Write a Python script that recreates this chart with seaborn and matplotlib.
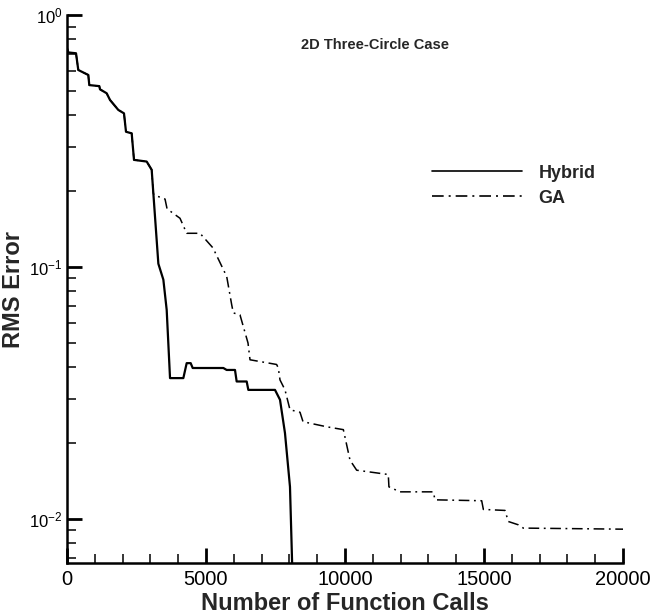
import numpy as np
import pandas as pd
import matplotlib
matplotlib.use("Agg")
import matplotlib.pyplot as plt
import seaborn as sns
from matplotlib.ticker import LogLocator, MultipleLocator, FuncFormatter

# ---- data ----
hybrid_x = [0, 0, 50, 324, 406, 766, 802, 1162, 1187, 1427, 1547, 1845, 2050, 2122,
            2327, 2410, 2866, 3046, 3106, 3286, 3466, 3586, 3706, 4185, 4305, 4449,
            4521, 5624, 5743, 6043, 6103, 6463, 6523, 7482, 7662, 7841, 8021, 8130]
hybrid_y = [0.80, 0.74, 0.71, 0.705, 0.605, 0.578, 0.527, 0.522, 0.507, 0.489, 0.46, 0.42,
            0.407, 0.344, 0.339, 0.266, 0.262, 0.243, 0.196, 0.103, 0.089, 0.0675,
            0.0362, 0.0362, 0.0415, 0.0415, 0.0397, 0.0397, 0.039, 0.039, 0.0351,
            0.0351, 0.0325, 0.0325, 0.0297, 0.0219, 0.0134, 0.005]

ga_x = [0, 0, 50, 324, 406, 766, 802, 1162, 1187, 1427, 1547, 1845, 2050, 2122,
        2327, 2410, 2866, 3046, 3106, 3130, 3526, 3600, 4065, 4305, 4784, 5250,
        5745, 5925, 5982, 6223, 6511, 6583, 7540, 7601, 7662, 7842, 8021, 8381,
        8490, 9341, 9941, 10180, 10420, 11557, 11580, 11978, 13176, 13237, 14917,
        14977, 15755, 15875, 16235, 16414, 20000]
ga_y = [0.80, 0.74, 0.71, 0.705, 0.605, 0.578, 0.527, 0.522, 0.507, 0.489, 0.46, 0.42,
        0.407, 0.344, 0.339, 0.266, 0.262, 0.243, 0.196, 0.193, 0.186, 0.17, 0.156,
        0.136, 0.136, 0.119, 0.0916, 0.0707, 0.0657, 0.0645, 0.0499, 0.0428, 0.041,
        0.0397, 0.0356, 0.0325, 0.0271, 0.0265, 0.0243, 0.0232, 0.0226, 0.0171,
        0.0156, 0.0150, 0.0134, 0.0128, 0.0128, 0.0119, 0.0118, 0.0109, 0.0108,
        0.00976, 0.00947, 0.00919, 0.0091]

series_names = ["Hybrid", "GA"]
title_text = "2D Three-Circle Case"
x_label = "Number of Function Calls"
y_label = "RMS Error"

df = pd.concat([
    pd.DataFrame({"calls": hybrid_x, "rms": hybrid_y, "method": "Hybrid"}),
    pd.DataFrame({"calls": ga_x, "rms": ga_y, "method": "GA"}),
], ignore_index=True)

sns.set_style("ticks")
plt.rcParams["font.family"] = ["Liberation Sans", "DejaVu Sans"]
plt.rcParams["mathtext.default"] = "regular"

fig = plt.figure(figsize=(6.52, 6.14), dpi=100)
ax = fig.add_axes([67 / 652, (614 - 563) / 614, 556 / 652, 548 / 614])

sns.lineplot(data=df, x="calls", y="rms", hue="method", style="method",
             hue_order=series_names, style_order=series_names,
             palette={"Hybrid": "black", "GA": "black"},
             dashes={"Hybrid": "", "GA": (7, 3, 1.2, 3)},
             estimator=None, sort=False, ax=ax, legend=True)
lines = ax.get_lines()
if len(lines) >= 2:
    lines[0].set_linewidth(1.6)
    lines[1].set_linewidth(1.1)
    lines[0].set_zorder(3)

ax.set_yscale("log")
ax.set_xlim(0, 20000)
ax.set_ylim(0.00668, 1.0)

ax.xaxis.set_major_locator(MultipleLocator(5000))
ax.xaxis.set_minor_locator(MultipleLocator(1000))
ax.yaxis.set_major_locator(LogLocator(base=10, numticks=10))
ax.yaxis.set_minor_locator(LogLocator(base=10, subs=np.arange(2, 10), numticks=20))
ax.yaxis.set_major_formatter(FuncFormatter(lambda v, p: r"$10^{%d}$" % int(round(np.log10(v)))))
ax.xaxis.set_major_formatter(FuncFormatter(lambda v, p: "%d" % v))

ax.tick_params(which="major", direction="in", length=11, width=2.0,
               color="black", labelcolor="black")
ax.tick_params(axis="x", which="major", labelsize=14.5, pad=5)
ax.tick_params(axis="y", which="major", labelsize=12, pad=3)
ax.tick_params(which="minor", direction="in", length=6.5, width=1.1, color="black")

for s in ["top", "right"]:
    ax.spines[s].set_visible(False)
for s in ["left", "bottom"]:
    ax.spines[s].set_linewidth(1.8)
    ax.spines[s].set_color("black")

ax.set_xlabel(x_label, fontsize=17, fontweight="bold", labelpad=2)
ax.set_ylabel(y_label, fontsize=17, fontweight="bold")
ax.yaxis.set_label_coords(-0.075, 0.5)

ax.text(0.554, 0.945, title_text, transform=ax.transAxes, ha="center", va="center",
        fontsize=10.5, fontweight="bold")

handles, labels = ax.get_legend_handles_labels()
leg = ax.legend(handles, labels, loc="upper left", bbox_to_anchor=(0.656, 0.727),
                frameon=False, fontsize=13, handlelength=5.0, handletextpad=0.9,
                labelspacing=0.45, borderpad=0, borderaxespad=0)
for t in leg.get_texts():
    t.set_fontweight("bold")
for h in leg.get_lines():
    h.set_color("black")
    h.set_linewidth(1.2)

fig.savefig("out.png", dpi=100)
